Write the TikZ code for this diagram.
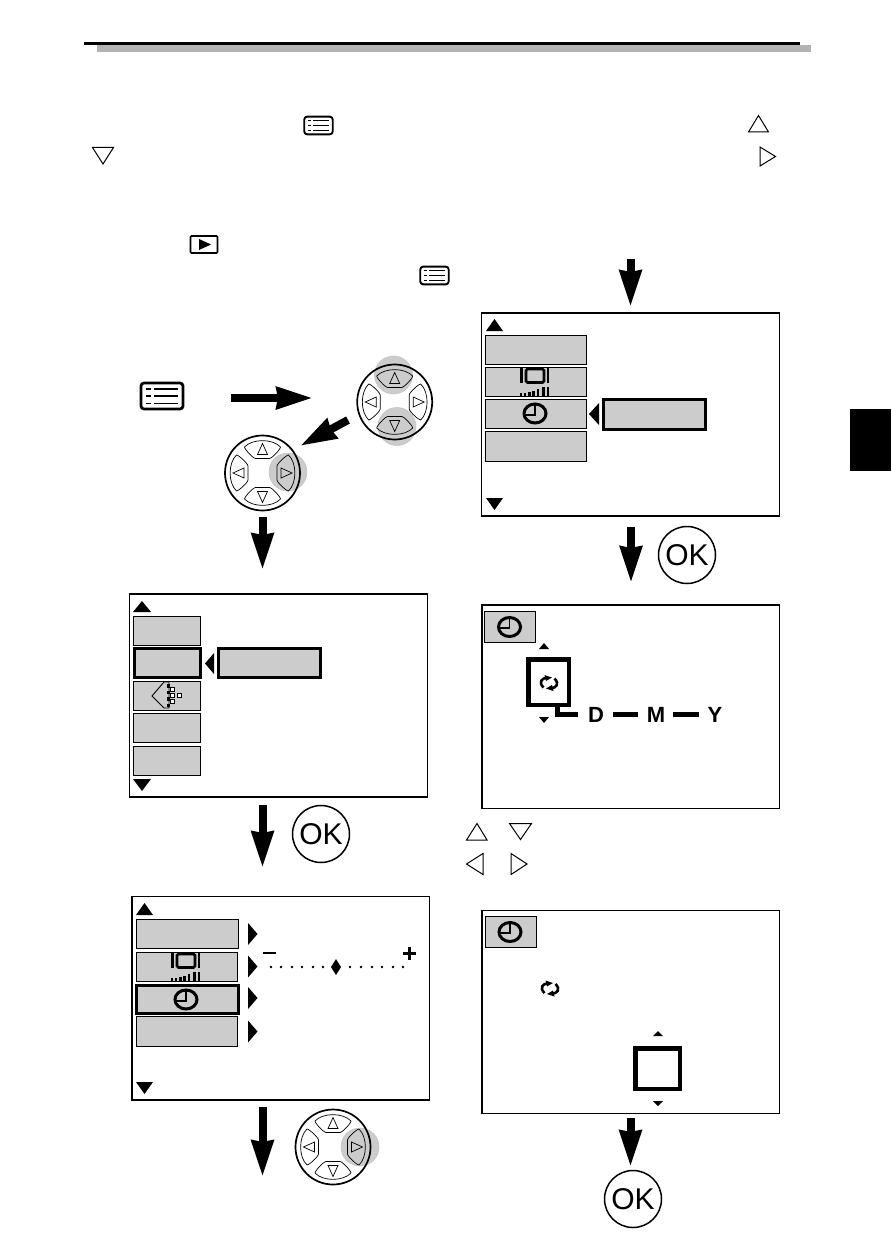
\documentclass[tikz,border=0pt]{standalone}
\usepackage{fontspec}
\setmainfont{Liberation Sans}
\usetikzlibrary{arrows.meta}
\definecolor{itemgray}{HTML}{CCCCCC}
\definecolor{bargray}{HTML}{B3B3B3}
\definecolor{ringgray}{HTML}{C4C4C4}
\newcommand\bx[6]{%
  \pgfmathsetmacro\bxw{#5-#3}\pgfmathsetmacro\bxh{#6-#4}%
  \node[#1,minimum width=\bxw pt,minimum height=\bxh pt] (#2) at ({(#3+#5)/2},{(#4+#6)/2}) {};}
\newcommand\menulw{2pt}
\tikzset{
  x=1pt,y=-1pt,
  menu lw/.store in=\menulw,
  boxbase/.style={rectangle,inner sep=0pt,outer sep=0pt},
  panel/.style={boxbase,draw=black,line width=1.8pt,fill=white},
  item/.style={boxbase,draw=black,line width=1pt,fill=itemgray},
  selitem/.style={boxbase,draw=black,line width=3pt,fill=itemgray},
  focusbox/.style={boxbase,draw=black,line width=4.6pt,fill=white},
  solidbar/.style={boxbase,fill=black},
  bigarrow/.style={line width=8pt,-{Stealth[length=36pt,width=21pt,inset=1pt]}},
  hollow/.style={draw=black,line width=1pt,line join=miter},
  okbutton/.style={circle,draw=black,line width=1.5pt,minimum size=57pt,inner sep=0pt,font=\fontsize{30}{30}\selectfont},
  dmy/.style={inner sep=0pt,font=\fontsize{22}{22}\selectfont\bfseries},
  thickline/.style={line width=5pt},
  clockicon/.pic={
    \draw[line width=3pt] (0,0) ellipse [x radius=11pt,y radius=9.5pt];
    \draw[line width=1.8pt] (-10,1.2) -- (0,1.2) -- (0,-9);
  },
  recycle/.pic={
    \draw[line width=2.6pt] (-2,-5.2) .. controls (-7,-5) and (-11,-1) .. (-5.5,4.5);
    \fill (-4.5,-8) -- (3,-5.5) -- (-3,-2) -- cycle;
    \draw[line width=2.6pt] (2,5.2) .. controls (7,5) and (11,1) .. (5.5,-4.5);
    \fill (4.5,8) -- (-3,5.5) -- (3,2) -- cycle;
  },
  qualityicon/.pic={
    \fill (-15.5,-14) rectangle (-12.7,1.5);
    \fill (11,-14) rectangle (13.8,1.5);
    \draw[line width=2.8pt,rounded corners=1.5pt] (-9.5,-12.5) rectangle (8.5,1);
    \foreach \bxx/\bxh in {-16/2.5,-12/3,-7.5/4,-3.5/5,1/7,6.5/9,11/9}
      \fill (\bxx,14.3) rectangle ++(2.8,-\bxh);
  },
  menuicon/.pic={
    \draw[line width=\menulw,rounded corners=3pt] (-21,-13) rectangle (21,13);
    \foreach \ry in {-6.8,0.3,7.6}{
      \draw[line width=0.62*\menulw] (-16,\ry) -- (-11,\ry);
      \draw[line width=0.62*\menulw] (-8,\ry) -- (16,\ry);
    }
  },
  padshape/.pic={
    \draw[line width=.7pt,line join=round] (-18,-26) .. controls (-10,-34.5) and (10,-34.5) .. (18,-26)
      .. controls (18,-24) and (10,-15) .. (7,-14.5) -- (-7,-14.5) .. controls (-10,-15) and (-18,-24) .. (-18,-26) -- cycle;
    \draw[line width=.7pt] (0,-29.5) -- (5,-18.5) -- (-5,-18.5) -- cycle;
  },
  dialbody/.pic={
    \pic[rotate=0] {padshape};
    \pic[rotate=90] {padshape};
    \pic[rotate=180] {padshape};
    \pic[rotate=270] {padshape};
    \draw[line width=1.7pt] (0,0) circle [radius=37.5pt];
  },
}
\begin{document}
\begin{tikzpicture}
\useasboundingbox (0,0) rectangle (891,1257);

% header rules and side tab
\bx{solidbar,fill=bargray}{hbar}{97}{45}{811}{52}
\bx{solidbar}{hrule}{84}{42}{800}{45.5}
\bx{solidbar}{sidetab}{850}{409}{891}{471}

% top glyphs
\pic[menu lw=1.9pt,scale=.68] (mi1) at (318.5,125.5) {menuicon};
\pic[menu lw=1.9pt,scale=.68] (mi2) at (434.5,275.5) {menuicon};
\pic[menu lw=2.7pt] (mi3) at (162,396) {menuicon};
\bx{boxbase,draw=black,line width=1.7pt,rounded corners=1pt}{playbox}{190.5}{236}{217.5}{253}
\fill (199,239) -- (211,244.5) -- (199,250) -- cycle;
\draw[hollow] (748.5,132) -- (758.5,115.5) -- (768.5,132) -- cycle;
\draw[hollow] (760,147) -- (775.5,156.5) -- (760,166) -- cycle;
\draw[hollow] (92.5,147.5) -- (113.5,147.5) -- (103,164) -- cycle;

% dial 1
\fill[white] (394.7,402) circle [radius=37.5pt];
\fill[itemgray,draw=ringgray,line width=.6pt] (393.5,375) circle [radius=19pt];
\fill[itemgray,draw=ringgray,line width=.6pt] (397,426.5) circle [radius=19pt];
\pic (d1) at (394.7,402) {dialbody};
% dial 2
\fill[white] (262.5,473) circle [radius=37.5pt];
\fill[itemgray,draw=ringgray,line width=.6pt] (288,472) circle [radius=19pt];
\pic (d2) at (262.5,473) {dialbody};
% dial 3
\fill[white] (333,1147) circle [radius=37.5pt];
\fill[itemgray,draw=ringgray,line width=.6pt] (360,1147) circle [radius=19pt];
\pic (d3) at (333,1147) {dialbody};

% arrows
\coordinate (a1s) at (630.5,259);  \coordinate (a1e) at (630.5,307);
\coordinate (a2s) at (231,398);    \coordinate (a2e) at (313,398);
\coordinate (a3s) at (348,420);    \coordinate (a3e) at (300,446);
\coordinate (a4s) at (262.5,517);  \coordinate (a4e) at (262.5,570);
\coordinate (a5s) at (262.5,805);  \coordinate (a5e) at (262.5,868);
\coordinate (a6s) at (631,527);    \coordinate (a6e) at (631,583);
\coordinate (a7s) at (262.5,1107); \coordinate (a7e) at (262.5,1177);
\coordinate (a8s) at (630.5,1118); \coordinate (a8e) at (630.5,1167);
\foreach \ar in {a1,a2,a3,a4,a5,a6,a7,a8}
  \draw[bigarrow] (\ar s) -- (\ar e);

% OK buttons
\node[okbutton] (ok1) at (687,555) {OK};
\node[okbutton] (ok2) at (321,834) {OK};
\node[okbutton] (ok3) at (633,1199) {OK};

% screen 1
\bx{panel}{s1}{481.5}{313}{779.5}{516}
\fill (486,331) -- (494.5,319) -- (503,331) -- cycle;
\fill (486,498) -- (503,498) -- (494.5,510) -- cycle;
\bx{item}{s1a}{485.5}{335.5}{586.5}{364}
\bx{item}{s1b}{485.5}{367.5}{586.5}{396}
\bx{item}{s1c}{485.5}{399.5}{586.5}{428}
\bx{item}{s1d}{485.5}{431.5}{586.5}{461}
\bx{selitem}{s1sel}{603.5}{399.5}{705}{429}
\fill (599,403) -- (589,414) -- (599,425) -- cycle;
\pic at (535.5,381.5) {qualityicon};
\pic at (535,413.5) {clockicon};

% screen 2
\bx{panel}{s2}{129.5}{594}{427.5}{797}
\fill (133,612) -- (142,601) -- (151,612) -- cycle;
\fill (133,779) -- (151,779) -- (142,791) -- cycle;
\bx{item}{s2a}{133.5}{616.5}{200.5}{645}
\bx{selitem}{s2b}{134.5}{648.5}{200}{677}
\bx{item}{s2c}{133.5}{681.5}{200.5}{710}
\bx{item}{s2d}{133.5}{713.5}{200.5}{742}
\bx{item}{s2e}{133.5}{746.5}{200.5}{775}
\bx{selitem}{s2sel}{218.5}{648.5}{320}{677}
\fill (214,653) -- (205,663.5) -- (214,674) -- cycle;
% fold icon
\draw[line width=.9pt] (169,682) -- (164,682) -- (152,696) -- (164,708) -- (169,708) -- cycle;
\foreach \ty in {686,692.5,699,705.5} \fill (166.5,\ty-1.7) rectangle (170,\ty+1.7);
\foreach \sx/\sy in {172.7/689.3,172.7/695.5,172.7/701.7,179.3/695.5}
  \draw[line width=1pt,fill=white] (\sx-2.1,\sy-2.1) rectangle (\sx+2.1,\sy+2.1);

% screen 3
\bx{panel}{s3}{132}{896.5}{429.5}{1100}
\fill (136,915) -- (144.5,903) -- (153,915) -- cycle;
\fill (136,1082) -- (153,1082) -- (144.5,1094) -- cycle;
\bx{item}{s3a}{136.5}{919.5}{238.5}{948.5}
\bx{item}{s3b}{136.5}{952.5}{237.5}{981}
\bx{item}{s3d}{136.5}{1016.5}{237.5}{1046}
\bx{selitem}{s3c}{136.5}{985.5}{238}{1013.5}
\foreach \py in {934,966.5,998,1031.5}
  \fill (248,\py-11) -- (257.5,\py) -- (248,\py+11) -- cycle;
\pic at (186.5,966.5) {qualityicon};
\pic at (186,999.5) {clockicon};
\fill (263,951.7) rectangle (276,954.4);
\fill (402.5,951.5) rectangle (415.5,954.7);
\fill (407.5,947) rectangle (410.7,960);
\foreach \dx in {271,281,292,302,313,323,350,361,372,382,393,403}
  \fill (\dx,967) circle [radius=1.4pt];
\fill (336,959) -- (341,967) -- (336,975) -- (331,967) -- cycle;

% screen 4
\bx{panel}{s4}{482}{605}{779.5}{808.5}
\bx{item}{s4k}{484.5}{611.5}{535.5}{642.5}
\pic at (509.5,627) {clockicon};
\fill (539,649) -- (544,643) -- (549,649) -- cycle;
\fill (539,717) -- (549,717) -- (544,723) -- cycle;
\bx{focusbox}{s4f}{528.3}{659.5}{568.8}{704.8}
\pic at (549,683) {recycle};
\draw[thickline] (557.5,707) -- (557.5,714.5) -- (578,714.5);
\node[dmy] (lD) at (596,714.5) {D};
\node[dmy] (lM) at (656,714.5) {M};
\node[dmy] (lY) at (715,714.5) {Y};
\coordinate (dd1) at (613,714.5); \coordinate (dd2) at (638,714.5);
\coordinate (dd3) at (673,714.5); \coordinate (dd4) at (699,714.5);
\draw[thickline] (dd1) -- (dd2);
\draw[thickline] (dd3) -- (dd4);

% arrow key legend
\draw[hollow] (466.5,840) -- (477,823.5) -- (487,840) -- cycle;
\draw[hollow] (509.5,823.5) -- (531.5,823.5) -- (520.5,839.5) -- cycle;
\draw[hollow] (483,853.5) -- (466.5,864) -- (483,874.5) -- cycle;
\draw[hollow] (511,853.5) -- (527,864) -- (511,874.5) -- cycle;

% screen 5
\bx{panel}{s5}{482}{910.5}{779.5}{1113.5}
\bx{item}{s5k}{485.5}{916.5}{536.5}{947.5}
\pic at (510,932) {clockicon};
\pic at (550,988.5) {recycle};
\fill (653,1036) -- (658,1031) -- (663,1036) -- cycle;
\fill (653,1101) -- (663,1101) -- (658,1106) -- cycle;
\bx{focusbox}{s5f}{635.5}{1048.5}{680}{1089}
\end{tikzpicture}
\end{document}
